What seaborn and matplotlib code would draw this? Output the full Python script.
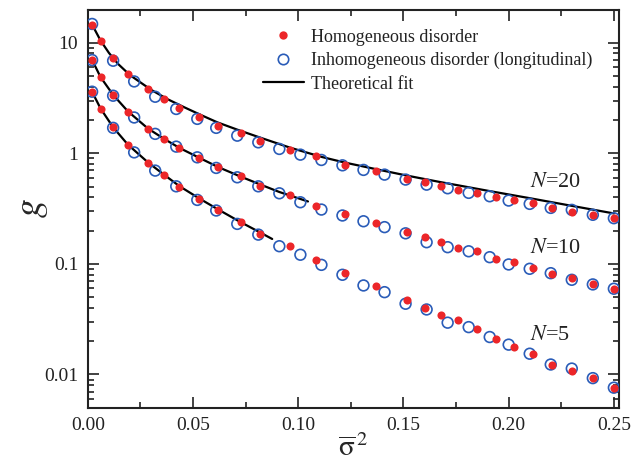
import numpy as np
import pandas as pd
import seaborn as sns
from matplotlib import pyplot as plt
from matplotlib.lines import Line2D
from matplotlib.ticker import MultipleLocator, LogLocator, NullFormatter, FixedLocator, FixedFormatter

# homogeneous disorder (red dots)
x_hom = [0.002, 0.006, 0.012, 0.019, 0.0285, 0.036, 0.0435, 0.053, 0.062, 0.0727, 0.082,
         0.096, 0.1086, 0.122, 0.1368, 0.1516, 0.160, 0.168, 0.176, 0.185, 0.194, 0.2026,
         0.2116, 0.2207, 0.230, 0.240, 0.250]
g_hom_20 = [14.5, 10.4, 7.27, 5.21, 3.81, 3.10, 2.55, 2.14, 1.78, 1.53, 1.28,
            1.07, 0.94, 0.79, 0.688, 0.587, 0.555, 0.51, 0.47, 0.439, 0.40, 0.379,
            0.353, 0.321, 0.297, 0.279, 0.259]
g_hom_10 = [6.98, 4.86, 3.39, 2.35, 1.66, 1.35, 1.11, 0.90, 0.747, 0.62, 0.51,
            0.421, 0.337, 0.283, 0.235, 0.193, 0.174, 0.158, 0.1396, 0.130, 0.111, 0.1036,
            0.092, 0.0813, 0.0749, 0.0652, 0.0596]
g_hom_5 = [3.61, 2.52, 1.72, 1.19, 0.819, 0.638, 0.493, 0.387, 0.308, 0.238, 0.186,
           0.1445, 0.109, 0.0831, 0.0625, 0.0474, 0.0401, 0.0347, 0.0308, 0.0259, 0.0208, 0.0177,
           0.0152, 0.0121, 0.0107, 0.00926, 0.00759]

# inhomogeneous disorder, longitudinal (blue circles)
x_inh = [0.002, 0.012, 0.022, 0.032, 0.042, 0.052, 0.061, 0.071, 0.081, 0.091, 0.101,
         0.111, 0.121, 0.131, 0.141, 0.151, 0.161, 0.171, 0.181, 0.191, 0.200, 0.210,
         0.220, 0.230, 0.240, 0.250]
g_inh_20 = [14.8, 6.88, 4.47, 3.25, 2.52, 2.05, 1.70, 1.445, 1.257, 1.096, 0.973,
            0.871, 0.779, 0.708, 0.642, 0.579, 0.521, 0.483, 0.439, 0.409, 0.374, 0.349,
            0.321, 0.308, 0.278, 0.259]
g_inh_10 = [6.98, 3.32, 2.11, 1.50, 1.15, 0.92, 0.738, 0.607, 0.503, 0.435, 0.361,
            0.31, 0.274, 0.243, 0.215, 0.189, 0.157, 0.1416, 0.130, 0.115, 0.0988, 0.0903,
            0.0824, 0.0718, 0.0652, 0.0596]
g_inh_5 = [3.61, 1.70, 1.02, 0.698, 0.503, 0.379, 0.304, 0.230, 0.184, 0.1445, 0.121,
           0.098, 0.0797, 0.0638, 0.0555, 0.0436, 0.0387, 0.0294, 0.0268, 0.0218, 0.0186, 0.0154,
           0.0123, 0.0113, 0.00926, 0.00759]

# theoretical fits (black lines)
x_fit_20 = [0.002, 0.006, 0.010, 0.0144, 0.020, 0.030, 0.038, 0.046, 0.054, 0.0616, 0.0713,
            0.0813, 0.096, 0.111, 0.122, 0.137, 0.152, 0.167, 0.190, 0.210, 0.230, 0.250]
g_fit_20 = [14.6, 10.5, 8.1, 6.42, 5.1, 3.76, 3.08, 2.60, 2.21, 1.905, 1.63,
            1.40, 1.127, 0.929, 0.826, 0.719, 0.627, 0.552, 0.459, 0.393, 0.335, 0.286]
x_fit_10 = [0.002, 0.006, 0.012, 0.019, 0.0285, 0.036, 0.0435, 0.053, 0.062, 0.0727, 0.082,
            0.091, 0.1046]
g_fit_10 = [7.0, 4.9, 3.38, 2.4, 1.68, 1.36, 1.12, 0.91, 0.75, 0.615, 0.522,
            0.447, 0.367]
x_fit_5 = [0.002, 0.006, 0.012, 0.019, 0.0285, 0.036, 0.0435, 0.053, 0.062, 0.072, 0.0813,
           0.0876]
g_fit_5 = [3.6, 2.55, 1.72, 1.2, 0.83, 0.645, 0.505, 0.39, 0.31, 0.242, 0.195,
           0.168]

n_labels = ['N=20', 'N=10', 'N=5']

hom = pd.concat([pd.DataFrame({'x': x_hom, 'g': g, 'N': n})
                 for g, n in zip([g_hom_20, g_hom_10, g_hom_5], n_labels)])
inh = pd.concat([pd.DataFrame({'x': x_inh, 'g': g, 'N': n})
                 for g, n in zip([g_inh_20, g_inh_10, g_inh_5], n_labels)])
fit = pd.concat([pd.DataFrame({'x': x, 'g': g, 'N': n})
                 for x, g, n in zip([x_fit_20, x_fit_10, x_fit_5],
                                    [g_fit_20, g_fit_10, g_fit_5], n_labels)])

sns.set_style('ticks')
plt.rcParams['font.family'] = ['Liberation Serif', 'DejaVu Serif']
plt.rcParams['mathtext.fontset'] = 'stix'

red = '#ec2629'
blue = '#2a5cb8'

fig = plt.figure(figsize=(6.35, 4.68), dpi=100)
ax = fig.add_axes([0.1384, 0.1288, 0.8366, 0.8509])

sns.lineplot(data=fit, x='x', y='g', units='N', estimator=None, color='black',
             linewidth=1.6, ax=ax, legend=False, sort=False, zorder=2)
sns.scatterplot(data=inh, x='x', y='g', marker='o', s=60, facecolor='none',
                edgecolor=blue, linewidth=1.2, ax=ax, legend=False, zorder=3)
sns.scatterplot(data=hom, x='x', y='g', marker='o', s=34, color=red,
                linewidth=0, ax=ax, legend=False, zorder=4)

ax.set_yscale('log')
ax.set_xlim(0, 0.2525)
ax.set_ylim(0.005, 20)

ax.xaxis.set_minor_locator(MultipleLocator(0.025))
ax.set_xticks([0, 0.05, 0.10, 0.15, 0.20, 0.25])
ax.set_xticklabels(['0.00', '0.05', '0.10', '0.15', '0.20', '0.25'])
ax.yaxis.set_major_locator(FixedLocator([0.01, 0.1, 1, 10]))
ax.yaxis.set_major_formatter(FixedFormatter(['0.01', '0.1', '1', '10']))
ax.yaxis.set_minor_locator(LogLocator(base=10, subs=np.arange(2, 10)))
ax.yaxis.set_minor_formatter(NullFormatter())

ax.tick_params(which='both', direction='in', top=True, right=True, labelsize=14,
               width=1.2, colors='#222222')
ax.tick_params(which='major', length=8, pad=7)
ax.tick_params(which='minor', length=4)
for sp in ax.spines.values():
    sp.set_linewidth(1.5)
    sp.set_color('#222222')

ax.set_xlabel(r'$\overline{\mathrm{\sigma}}^{\,2}$', fontsize=21, labelpad=0)
ax.set_ylabel(r'$g$', fontsize=27, labelpad=-4)

for lab, yy in zip(n_labels, [0.55, 0.137, 0.0225]):
    ax.text(0.2103, yy, r'$N$' + lab[1:], fontsize=16, ha='left', va='center',
            color='#222222')

handles = [
    Line2D([], [], linestyle='none', marker='o', markersize=6, color=red, markeredgewidth=0),
    Line2D([], [], linestyle='none', marker='o', markersize=7.5, markerfacecolor='none',
           markeredgecolor=blue, markeredgewidth=1.2),
    Line2D([], [], color='black', linewidth=1.6),
]
ax.legend(handles, ['Homogeneous disorder', 'Inhomogeneous disorder (longitudinal)',
                    'Theoretical fit'],
          loc='upper left', bbox_to_anchor=(0.329, 0.952), frameon=False, fontsize=13,
          handlelength=2.3, handletextpad=0.35, borderaxespad=0, borderpad=0,
          labelspacing=0.35, labelcolor='#222222')

fig.savefig('out.png', dpi=100)
